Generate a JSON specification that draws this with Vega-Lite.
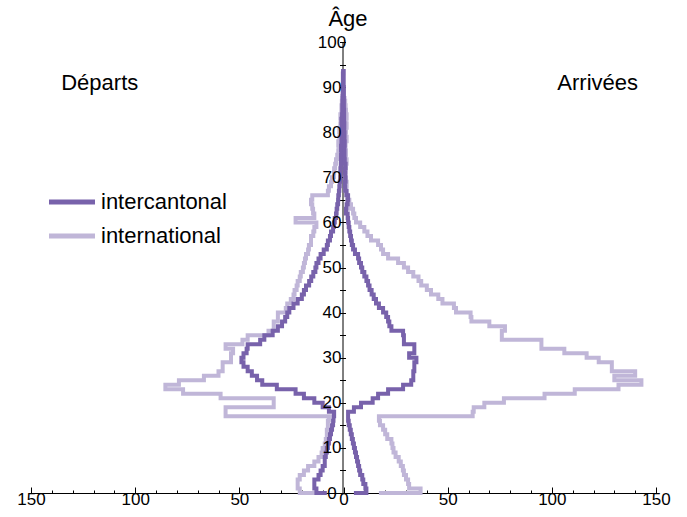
{
"$schema": "https://vega.github.io/schema/vega-lite/v6.json",
"width": 625, "height": 451,
"autosize": "none",
"padding": {"left": 31, "top": 42, "right": 31, "bottom": 24},
"background": "white",
"config": {"view": {"stroke": null}, "font": "Liberation Sans",
  "axis": {"grid": false, "domainColor": "black", "tickColor": "black", "labelColor": "black", "labelFontSize": 17, "labelFontWeight": "normal", "domainWidth": 1, "tickWidth": 1, "labelFlush": false}},
"resolve": {"axis": {"x": "independent", "y": "independent"}},
"layer": [
{"data": {"values": [{"age":0,"n":-10},{"age":0,"n":-21},{"age":1,"n":-22},{"age":2,"n":-22},{"age":3,"n":-21},{"age":4,"n":-19},{"age":5,"n":-17},{"age":6,"n":-14},{"age":7,"n":-12},{"age":8,"n":-10.5},{"age":9,"n":-10},{"age":10,"n":-9},{"age":11,"n":-8.5},{"age":12,"n":-8},{"age":13,"n":-8},{"age":14,"n":-7.5},{"age":15,"n":-7.5},{"age":16,"n":-7},{"age":17,"n":-56.6},{"age":18,"n":-56.6},{"age":19,"n":-33.5},{"age":20,"n":-33.5},{"age":21,"n":-59},{"age":22,"n":-77},{"age":23,"n":-85.5},{"age":24,"n":-79},{"age":25,"n":-67},{"age":26,"n":-60},{"age":27,"n":-58},{"age":28,"n":-58},{"age":29,"n":-54},{"age":30,"n":-54},{"age":31,"n":-53},{"age":32,"n":-56.6},{"age":33,"n":-48.5},{"age":34,"n":-46},{"age":35,"n":-36},{"age":36,"n":-33.5},{"age":37,"n":-33.5},{"age":38,"n":-31.5},{"age":39,"n":-31.5},{"age":40,"n":-27.7},{"age":41,"n":-27},{"age":42,"n":-25.3},{"age":43,"n":-24},{"age":44,"n":-23.5},{"age":45,"n":-22.5},{"age":46,"n":-22},{"age":47,"n":-21},{"age":48,"n":-20.5},{"age":49,"n":-19.5},{"age":50,"n":-19},{"age":51,"n":-18.5},{"age":52,"n":-18},{"age":53,"n":-17},{"age":54,"n":-16.6},{"age":55,"n":-15.6},{"age":56,"n":-15.6},{"age":57,"n":-14.5},{"age":58,"n":-14},{"age":59,"n":-13},{"age":60,"n":-23},{"age":61,"n":-14},{"age":62,"n":-14.6},{"age":63,"n":-15},{"age":64,"n":-15.6},{"age":65,"n":-15},{"age":66,"n":-7.5},{"age":67,"n":-7},{"age":68,"n":-6},{"age":69,"n":-5.5},{"age":70,"n":-4.6},{"age":71,"n":-4.5},{"age":72,"n":-4},{"age":73,"n":-3.6},{"age":74,"n":-3},{"age":75,"n":-2.5},{"age":76,"n":-2},{"age":77,"n":-2.5},{"age":78,"n":-2},{"age":79,"n":-1.5},{"age":80,"n":-2},{"age":81,"n":-1.5},{"age":82,"n":-1},{"age":83,"n":-1.5},{"age":84,"n":-1},{"age":85,"n":-1},{"age":86,"n":-0.8},{"age":87,"n":-0.5},{"age":88,"n":-0.5}]},
 "mark": {"type": "line", "interpolate": "step-before", "strokeWidth": 4, "strokeJoin": "miter", "strokeCap": "butt"},
 "encoding": {
  "x": {"field": "n", "type": "quantitative", "scale": {"domain": [-150, 150], "nice": false, "zero": false},
        "axis": {"orient": "bottom", "values": [-150,-100,-50,0,50,100,150], "labelExpr": "format(abs(datum.value),'d')", "tickSize": -6, "labelPadding": 4, "title": null}},
  "y": {"field": "age", "type": "quantitative", "scale": {"domain": [0, 100], "nice": false},
        "axis": {"orient": "left", "offset": -311.5, "values": [0,5,10,15,20,25,30,35,40,45,50,55,60,65,70,75,80,85,90,95,100], "labels": false, "tickSize": 3,
                 "title": "Âge", "titleAngle": 0, "titleX": 5, "titleY": -17, "titleAlign": "center", "titleBaseline": "alphabetic", "titleFontSize": 22, "titleFontWeight": "normal", "titleColor": "black"}},
  "color": {"datum": "international", "scale": {"domain": ["intercantonal", "international"], "range": ["#7862ab", "#c0b6d8"]},
            "legend": {"orient": "none", "legendX": 27, "legendY": 146, "title": null, "symbolType": "M-2,0H2", "symbolSize": 529, "symbolStrokeWidth": 5, "labelFontSize": 22, "labelOffset": 15, "rowPadding": 9, "padding": 0, "labelColor": "black"}},
  "order": {"value": null}
 }},
{"data": {"values": [{"age":0,"n":17},{"age":0,"n":37},{"age":1,"n":31.5},{"age":2,"n":31},{"age":3,"n":30},{"age":4,"n":29},{"age":5,"n":28.5},{"age":6,"n":27.5},{"age":7,"n":26.5},{"age":8,"n":25},{"age":9,"n":24},{"age":10,"n":23.5},{"age":11,"n":23},{"age":12,"n":21},{"age":13,"n":20},{"age":14,"n":19},{"age":15,"n":17.5},{"age":16,"n":17},{"age":17,"n":62},{"age":18,"n":62.5},{"age":19,"n":67.6},{"age":20,"n":77},{"age":21,"n":96.5},{"age":22,"n":111},{"age":23,"n":132},{"age":24,"n":143},{"age":25,"n":130},{"age":26,"n":140},{"age":27,"n":128.8},{"age":28,"n":128.8},{"age":29,"n":122.5},{"age":30,"n":116.7},{"age":31,"n":106},{"age":32,"n":95},{"age":33,"n":95},{"age":34,"n":76},{"age":35,"n":76},{"age":36,"n":77.5},{"age":37,"n":70},{"age":38,"n":61.4},{"age":39,"n":61},{"age":40,"n":54},{"age":41,"n":53},{"age":42,"n":47.5},{"age":43,"n":45.5},{"age":44,"n":42},{"age":45,"n":40},{"age":46,"n":37.3},{"age":47,"n":36},{"age":48,"n":33.5},{"age":49,"n":31},{"age":50,"n":29},{"age":51,"n":26.2},{"age":52,"n":21.4},{"age":53,"n":19},{"age":54,"n":18},{"age":55,"n":16.6},{"age":56,"n":13.2},{"age":57,"n":11.5},{"age":58,"n":10},{"age":59,"n":8},{"age":60,"n":6},{"age":61,"n":5.2},{"age":62,"n":4.6},{"age":63,"n":3.6},{"age":64,"n":2.8},{"age":65,"n":1.8},{"age":66,"n":1.2},{"age":67,"n":1},{"age":68,"n":1.5},{"age":69,"n":1},{"age":70,"n":0.8},{"age":71,"n":1.2},{"age":72,"n":1},{"age":73,"n":1.5},{"age":74,"n":1},{"age":75,"n":1.2},{"age":76,"n":0.8},{"age":77,"n":1},{"age":78,"n":1.5},{"age":79,"n":1},{"age":80,"n":1.2},{"age":81,"n":1.5},{"age":82,"n":1},{"age":83,"n":1.5},{"age":84,"n":1.2},{"age":85,"n":1},{"age":86,"n":0.8},{"age":87,"n":0.5},{"age":88,"n":0.5}]},
 "mark": {"type": "line", "interpolate": "step-before", "strokeWidth": 4, "strokeJoin": "miter", "strokeCap": "butt"},
 "encoding": {
  "x": {"field": "n", "type": "quantitative", "axis": null},
  "y": {"field": "age", "type": "quantitative", "axis": null},
  "color": {"datum": "international"},
  "order": {"value": null}
 }},
{"data": {"values": [{"age":0,"n":-8},{"age":0,"n":-13},{"age":1,"n":-14},{"age":2,"n":-14},{"age":3,"n":-12},{"age":4,"n":-11},{"age":5,"n":-10},{"age":6,"n":-9},{"age":7,"n":-9},{"age":8,"n":-8.5},{"age":9,"n":-8},{"age":10,"n":-7.5},{"age":11,"n":-7},{"age":12,"n":-6.5},{"age":13,"n":-6},{"age":14,"n":-5.5},{"age":15,"n":-5},{"age":16,"n":-4.8},{"age":17,"n":-4.5},{"age":18,"n":-7},{"age":19,"n":-10},{"age":20,"n":-14},{"age":21,"n":-19},{"age":22,"n":-23},{"age":23,"n":-32},{"age":24,"n":-39},{"age":25,"n":-41.5},{"age":26,"n":-44},{"age":27,"n":-46},{"age":28,"n":-48},{"age":29,"n":-49},{"age":30,"n":-48},{"age":31,"n":-46.5},{"age":32,"n":-46},{"age":33,"n":-40},{"age":34,"n":-38},{"age":35,"n":-34},{"age":36,"n":-31.5},{"age":37,"n":-29.5},{"age":38,"n":-28},{"age":39,"n":-27},{"age":40,"n":-26},{"age":41,"n":-24},{"age":42,"n":-22},{"age":43,"n":-20},{"age":44,"n":-19},{"age":45,"n":-18},{"age":46,"n":-16.5},{"age":47,"n":-15.5},{"age":48,"n":-14.5},{"age":49,"n":-13.5},{"age":50,"n":-13},{"age":51,"n":-12},{"age":52,"n":-11},{"age":53,"n":-9.5},{"age":54,"n":-8},{"age":55,"n":-7.5},{"age":56,"n":-6.5},{"age":57,"n":-6},{"age":58,"n":-5},{"age":59,"n":-4.6},{"age":60,"n":-4.2},{"age":61,"n":-3.6},{"age":62,"n":-3.3},{"age":63,"n":-3},{"age":64,"n":-2.6},{"age":65,"n":-2.5},{"age":66,"n":-2.2},{"age":67,"n":-2},{"age":68,"n":-1.8},{"age":69,"n":-1.6},{"age":70,"n":-1.5},{"age":71,"n":-1.5},{"age":72,"n":-1.3},{"age":73,"n":-1.2},{"age":74,"n":-1.2},{"age":75,"n":-1},{"age":76,"n":-1.2},{"age":77,"n":-1},{"age":78,"n":-0.9},{"age":79,"n":-1},{"age":80,"n":-0.8},{"age":81,"n":-0.8},{"age":82,"n":-1},{"age":83,"n":-0.7},{"age":84,"n":-0.6},{"age":85,"n":-0.6},{"age":86,"n":-0.5},{"age":87,"n":-0.5},{"age":88,"n":-0.4},{"age":89,"n":-0.4},{"age":90,"n":-0.3},{"age":91,"n":-0.3},{"age":92,"n":-0.3},{"age":93,"n":-0.2},{"age":94,"n":-0.2}]},
 "mark": {"type": "line", "interpolate": "step-before", "strokeWidth": 4, "strokeJoin": "miter", "strokeCap": "butt"},
 "encoding": {
  "x": {"field": "n", "type": "quantitative", "axis": null},
  "y": {"field": "age", "type": "quantitative", "axis": {"orient": "left", "offset": -311.5, "values": [0,10,20,30,40,50,60,70,80,90,100], "ticks": false, "domain": false, "labelPadding": 11, "labelAlign": "center", "labelBaseline": "middle", "title": null, "zindex": 1}},
  "color": {"datum": "intercantonal"},
  "order": {"value": null}
 }},
{"data": {"values": [{"age":0,"n":5},{"age":0,"n":11},{"age":1,"n":10.5},{"age":2,"n":9.5},{"age":3,"n":9},{"age":4,"n":8},{"age":5,"n":7.5},{"age":6,"n":7},{"age":7,"n":6.5},{"age":8,"n":6},{"age":9,"n":5.5},{"age":10,"n":5},{"age":11,"n":4.5},{"age":12,"n":4},{"age":13,"n":3.5},{"age":14,"n":3},{"age":15,"n":2.5},{"age":16,"n":2.2},{"age":17,"n":2.2},{"age":18,"n":5},{"age":19,"n":8.4},{"age":20,"n":14},{"age":21,"n":16.6},{"age":22,"n":21.4},{"age":23,"n":28.6},{"age":24,"n":32.5},{"age":25,"n":33.5},{"age":26,"n":33.5},{"age":27,"n":34},{"age":28,"n":34},{"age":29,"n":35},{"age":30,"n":31.5},{"age":31,"n":34},{"age":32,"n":34},{"age":33,"n":29},{"age":34,"n":29},{"age":35,"n":28.6},{"age":36,"n":23},{"age":37,"n":22},{"age":38,"n":21.4},{"age":39,"n":20.5},{"age":40,"n":19},{"age":41,"n":17},{"age":42,"n":15.6},{"age":43,"n":14.5},{"age":44,"n":13.5},{"age":45,"n":12.5},{"age":46,"n":11.8},{"age":47,"n":11},{"age":48,"n":10},{"age":49,"n":9},{"age":50,"n":8.4},{"age":51,"n":7.5},{"age":52,"n":7},{"age":53,"n":5.5},{"age":54,"n":4.6},{"age":55,"n":4},{"age":56,"n":3.6},{"age":57,"n":3.2},{"age":58,"n":2.8},{"age":59,"n":2.5},{"age":60,"n":2.2},{"age":61,"n":2},{"age":62,"n":1.2},{"age":63,"n":1.5},{"age":64,"n":2},{"age":65,"n":2.2},{"age":66,"n":1.5},{"age":67,"n":0.8},{"age":68,"n":0.6},{"age":69,"n":1},{"age":70,"n":0.8},{"age":71,"n":0.6},{"age":72,"n":1},{"age":73,"n":0.6},{"age":74,"n":0.5},{"age":75,"n":0.5},{"age":76,"n":0.4},{"age":77,"n":0.6},{"age":78,"n":0.4},{"age":79,"n":0.5},{"age":80,"n":0.3},{"age":81,"n":0.4},{"age":82,"n":0.3},{"age":83,"n":0.3},{"age":84,"n":0.3},{"age":85,"n":0.2},{"age":86,"n":0.2},{"age":87,"n":0.2},{"age":88,"n":0.2},{"age":89,"n":0.2},{"age":90,"n":0.1},{"age":91,"n":0.1},{"age":92,"n":0.1},{"age":93,"n":0.1},{"age":94,"n":0.1}]},
 "mark": {"type": "line", "interpolate": "step-before", "strokeWidth": 4, "strokeJoin": "miter", "strokeCap": "butt"},
 "encoding": {
  "x": {"field": "n", "type": "quantitative", "axis": null},
  "y": {"field": "age", "type": "quantitative", "axis": null},
  "color": {"datum": "intercantonal"},
  "order": {"value": null}
 }},
{"data": {"values": [{"label": "Départs", "n": -117, "age": 91}, {"label": "Arrivées", "n": 122, "age": 91}]},
 "mark": {"type": "text", "fontSize": 22, "align": "center", "baseline": "middle", "color": "black"},
 "encoding": {
  "x": {"field": "n", "type": "quantitative",
        "axis": {"orient": "bottom", "values": [-140,-130,-120,-110,-90,-80,-70,-60,-40,-30,-20,-10,10,20,30,40,60,70,80,90,110,120,130,140], "tickSize": -3, "labels": false, "domain": false, "title": null}},
  "y": {"field": "age", "type": "quantitative",
        "axis": {"orient": "left", "offset": -311.5, "values": [0,5,10,15,20,25,30,35,40,45,50,55,60,65,70,75,80,85,90,95,100], "tickSize": -3, "labels": false, "domain": false, "title": null}},
  "text": {"field": "label"}
 }}
]
}
